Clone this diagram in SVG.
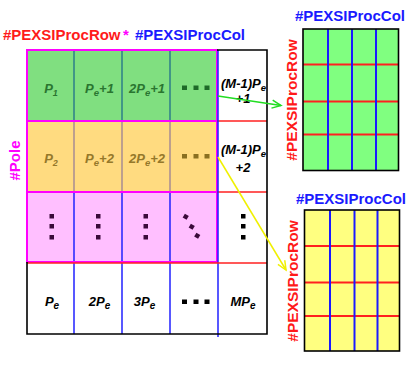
<svg xmlns="http://www.w3.org/2000/svg" width="415" height="367" viewBox="0 0 415 367">
<defs>
<style>
text{font-family:"Liberation Sans",Arial,sans-serif;font-weight:bold}
.c{font-style:italic;font-size:13px;text-anchor:middle}
.l{font-style:italic;font-size:13px}
.g{fill:#2a7530}.o{fill:#95782a}.k{fill:#000}
.sq-g{fill:#1e6a28}.sq-o{fill:#8a7020}.sq-p{fill:#3a0a3a}.sq-k{fill:#000}
.mag{fill:none;stroke:#ff00ff;stroke-width:2}
.red{stroke:#ff2020;stroke-width:1.5}
.redg{stroke:#ff2020;stroke-width:2}
.blu{stroke:#2020ff;stroke-width:1.5}
.blug{stroke:#1a1aff;stroke-width:2}
.blk{fill:none;stroke:#000;stroke-width:1.6}
</style>
<marker id="ag" markerWidth="12" markerHeight="12" refX="10" refY="5" orient="auto" markerUnits="userSpaceOnUse">
<path d="M1,1 L10,5 L1,9" fill="none" stroke="#22dd22" stroke-width="1.5"/>
</marker>
<marker id="ay" markerWidth="12" markerHeight="12" refX="10" refY="5" orient="auto" markerUnits="userSpaceOnUse">
<path d="M1,1 L10,5 L1,9" fill="none" stroke="#f0f000" stroke-width="1.5"/>
</marker>
</defs>
<rect width="415" height="367" fill="#fff"/>

<g id="title">
<text y="40" font-size="15"><tspan x="3" fill="#ff1a1a">#PEXSIProcRow</tspan><tspan x="123" fill="#ff00ff">*</tspan><tspan x="135" fill="#1a1aff">#PEXSIProcCol</tspan></text>
</g>
<g id="pole-label">
<text transform="translate(20,160.5) rotate(-90)" font-size="15" fill="#ff00ff" text-anchor="middle">#Pole</text>
</g>

<g id="row-green">
<rect x="27" y="50" width="190" height="71" fill="#80df80"/>
<g stroke="#1f6f8a" stroke-width="1.3"><line x1="74" y1="50" x2="74" y2="121"/><line x1="122" y1="50" x2="122" y2="121"/><line x1="170" y1="50" x2="170" y2="121"/></g>
<text class="c g" x="51" y="93">P<tspan font-size="9" dy="3">1</tspan></text>
<text class="c g" x="99.5" y="93">P<tspan font-size="9.5" dy="3">e</tspan><tspan dy="-3">+1</tspan></text>
<text class="c g" x="147" y="93">2P<tspan font-size="9.5" dy="3">e</tspan><tspan dy="-3">+1</tspan></text>
<g class="sq-g"><rect x="182" y="85.5" width="5" height="4.5"/><rect x="193.5" y="85.5" width="5" height="4.5"/><rect x="204.5" y="85.5" width="5" height="4.5"/></g>
<rect class="mag" x="27" y="50" width="190" height="71"/>
</g>

<g id="row-orange">
<rect x="27" y="121" width="190" height="71" fill="#ffdb80"/>
<g stroke="#9a8095" stroke-width="1.3"><line x1="74" y1="121" x2="74" y2="192"/><line x1="122" y1="121" x2="122" y2="192"/><line x1="170" y1="121" x2="170" y2="192"/></g>
<text class="c o" x="51" y="163">P<tspan font-size="9" dy="3">2</tspan></text>
<text class="c o" x="99.5" y="163">P<tspan font-size="9.5" dy="3">e</tspan><tspan dy="-3">+2</tspan></text>
<text class="c o" x="147" y="163">2P<tspan font-size="9.5" dy="3">e</tspan><tspan dy="-3">+2</tspan></text>
<g class="sq-o"><rect x="182" y="154" width="5" height="4.5"/><rect x="193.5" y="154" width="5" height="4.5"/><rect x="204.5" y="154" width="5" height="4.5"/></g>
<rect class="mag" x="27" y="121" width="190" height="71"/>
</g>

<g id="row-pink">
<rect x="27" y="192" width="190" height="70" fill="#ffbfff"/>
<g class="blu"><line x1="74" y1="192" x2="74" y2="262"/><line x1="122" y1="192" x2="122" y2="262"/><line x1="170" y1="192" x2="170" y2="262"/></g>
<g class="sq-p">
<rect x="49.5" y="214" width="4.5" height="4.5"/><rect x="49.5" y="224" width="4.5" height="4.5"/><rect x="49.5" y="235" width="4.5" height="4.5"/>
<rect x="96" y="214" width="4.5" height="4.5"/><rect x="96" y="224" width="4.5" height="4.5"/><rect x="96" y="235" width="4.5" height="4.5"/>
<rect x="143.5" y="214" width="4.5" height="4.5"/><rect x="143.5" y="224" width="4.5" height="4.5"/><rect x="143.5" y="235" width="4.5" height="4.5"/>
<rect x="183.5" y="214.5" width="4.5" height="4.5" transform="rotate(30 185.7 216.7)"/>
<rect x="189.5" y="224.5" width="4.5" height="4.5" transform="rotate(30 191.7 226.7)"/>
<rect x="195" y="233.5" width="4.5" height="4.5" transform="rotate(30 197.3 235.7)"/>
</g>
<rect class="mag" x="27" y="192" width="190" height="70"/>
</g>

<g id="col-last">
<text class="l k" x="221" y="88">(M-1)P<tspan font-size="9.5" dy="3">e</tspan></text>
<text class="c k" x="243" y="103">+1</text>
<text class="l k" x="221" y="154">(M-1)P<tspan font-size="9.5" dy="3">e</tspan></text>
<text class="c k" x="243" y="171.5">+2</text>
<g class="sq-k"><rect x="241" y="214" width="4.5" height="4.5"/><rect x="241" y="224" width="4.5" height="4.5"/><rect x="241" y="235" width="4.5" height="4.5"/></g>
<line class="red" x1="217" y1="121" x2="267" y2="121"/>
<line class="red" x1="217" y1="192" x2="267" y2="192"/>
</g>

<g id="row-bottom">
<g class="blu"><line x1="74" y1="263" x2="74" y2="334"/><line x1="122" y1="263" x2="122" y2="334"/><line x1="170" y1="263" x2="170" y2="334"/><line x1="218" y1="50" x2="218" y2="337"/></g>
<text class="c k" x="52" y="306">P<tspan font-size="10" dy="3">e</tspan></text>
<text class="c k" x="99.5" y="306">2P<tspan font-size="10" dy="3">e</tspan></text>
<text class="c k" x="144.5" y="306">3P<tspan font-size="10" dy="3">e</tspan></text>
<g class="sq-k"><rect x="182" y="299.5" width="5" height="4.5"/><rect x="193.5" y="299.5" width="5" height="4.5"/><rect x="204.5" y="299.5" width="5" height="4.5"/></g>
<text class="c k" x="243" y="306">MP<tspan font-size="10" dy="3">e</tspan></text>
<line class="red" x1="27" y1="263" x2="267" y2="263"/>
</g>

<g id="main-border">
<path class="blk" d="M217,50 H267 V334 H27 V262"/>
</g>

<g id="grid-top">
<text x="350" y="21" font-size="15" fill="#1a1aff" text-anchor="middle">#PEXSIProcCol</text>
<text transform="translate(297,100) rotate(-90)" font-size="15.5" fill="#ff1a1a" text-anchor="middle">#PEXSIProcRow</text>
<rect x="303" y="29" width="95.5" height="141.5" fill="#80ff80"/>
<g class="redg"><line x1="303" y1="64.5" x2="398.5" y2="64.5"/><line x1="303" y1="101.5" x2="398.5" y2="101.5"/><line x1="303" y1="134.5" x2="398.5" y2="134.5"/></g>
<g class="blug"><line x1="328" y1="29" x2="328" y2="170.5"/><line x1="352" y1="29" x2="352" y2="170.5"/><line x1="376" y1="29" x2="376" y2="170.5"/></g>
<rect class="blk" x="303" y="29" width="95.5" height="141.5"/>
</g>

<g id="grid-bottom">
<text x="351" y="204" font-size="15" fill="#1a1aff" text-anchor="middle">#PEXSIProcCol</text>
<text transform="translate(298,281) rotate(-90)" font-size="15.5" fill="#ff1a1a" text-anchor="middle">#PEXSIProcRow</text>
<rect x="304.5" y="210" width="95" height="141" fill="#ffff80"/>
<g class="redg"><line x1="304.5" y1="246" x2="399.5" y2="246"/><line x1="304.5" y1="282.5" x2="399.5" y2="282.5"/><line x1="304.5" y1="316" x2="399.5" y2="316"/></g>
<g class="blug"><line x1="330" y1="210" x2="330" y2="351"/><line x1="354.5" y1="210" x2="354.5" y2="351"/><line x1="377.5" y1="210" x2="377.5" y2="351"/></g>
<rect class="blk" x="304.5" y="210" width="95" height="141"/>
</g>

<g id="connectors" fill="none" stroke-width="1.5">
<line x1="218" y1="96" x2="281" y2="105.5" stroke="#22dd22" marker-end="url(#ag)"/>
<line x1="218" y1="157" x2="286" y2="270" stroke="#f0f000" marker-end="url(#ay)"/>
</g>
</svg>
